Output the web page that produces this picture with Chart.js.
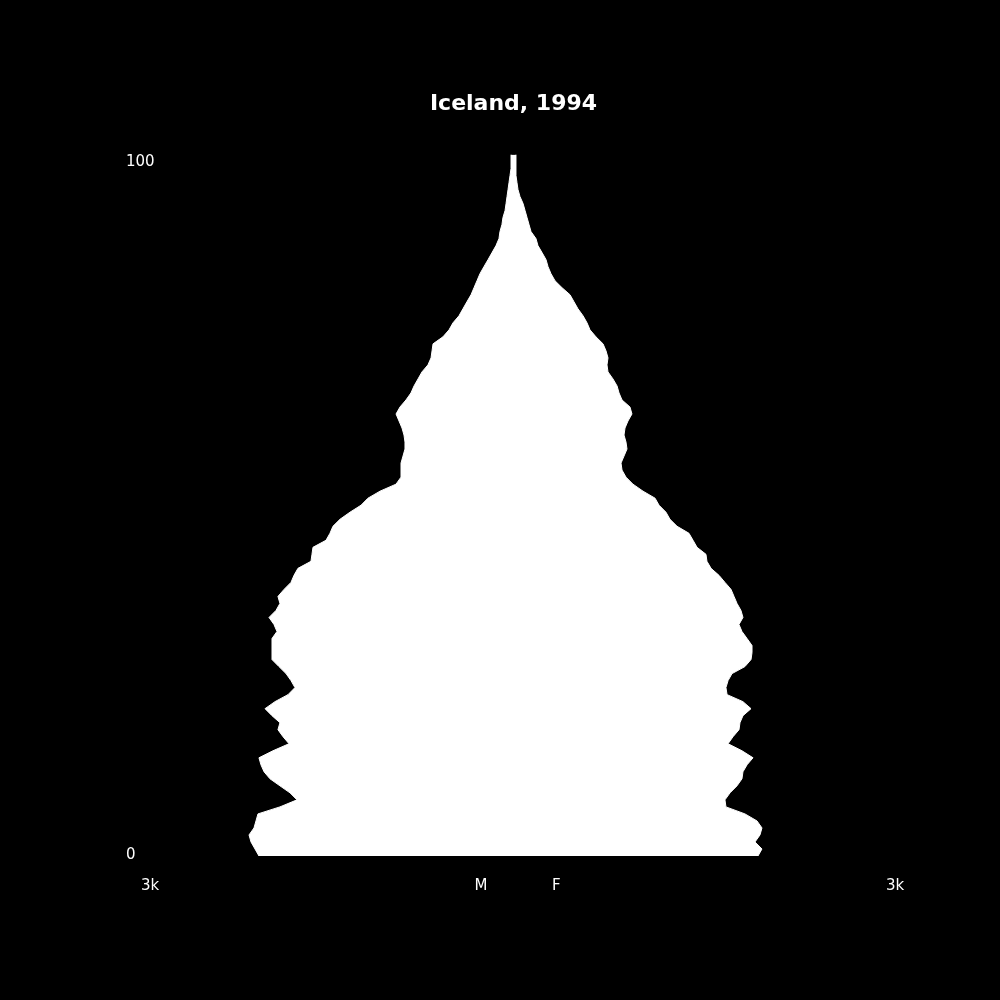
<!DOCTYPE html>
<html>
<head>
<meta charset="utf-8">
<title>Iceland, 1994</title>
<script src="https://cdn.jsdelivr.net/npm/chart.js@4/dist/chart.umd.min.js"></script>
<style>
  html, body { margin: 0; padding: 0; background: #000; }
  #wrap { width: 1000px; height: 1000px; }
  canvas { display: block; background: #000; }
</style>
</head>
<body>
<div id="wrap"><canvas id="pyramid" width="1000" height="1000"></canvas></div>
<script>
const ages = [
   0,  1,  2,  3,  4,  5,  6,  7,  8,  9,
  10, 11, 12, 13, 14, 15, 16, 17, 18, 19,
  20, 21, 22, 23, 24, 25, 26, 27, 28, 29,
  30, 31, 32, 33, 34, 35, 36, 37, 38, 39,
  40, 41, 42, 43, 44, 45, 46, 47, 48, 49,
  50, 51, 52, 53, 54, 55, 56, 57, 58, 59,
  60, 61, 62, 63, 64, 65, 66, 67, 68, 69,
  70, 71, 72, 73, 74, 75, 76, 77, 78, 79,
  80, 81, 82, 83, 84, 85, 86, 87, 88, 89,
  90, 91, 92, 93, 94, 95, 96, 97, 98, 99,
  100
];

// population by single year of age
const male = [
  2050, 2082, 2114, 2130, 2090, 2074, 2058, 1881, 1744, 1800,
  1881, 1961, 2009, 2034, 2050, 1937, 1808, 1856, 1897, 1881,
  1945, 2001, 1921, 1816, 1760, 1792, 1832, 1889, 1945, 1945,
  1945, 1945, 1905, 1929, 1969, 1913, 1881, 1897, 1848, 1792,
  1768, 1736, 1631, 1623, 1615, 1510, 1478, 1454, 1397, 1317,
  1228, 1172, 1075, 946, 906, 906, 906, 890, 874, 874,
  882, 898, 922, 946, 914, 866, 826, 801, 769, 737,
  689, 664, 656, 648, 568, 519, 487, 439, 407, 375,
  342, 318, 294, 270, 238, 205, 173, 141, 117, 109,
  93, 85, 68, 60, 52, 44, 36, 28, 20, 20,
  20
];

const female = [
  1969, 2001, 1945, 1985, 2001, 1961, 1864, 1711, 1703, 1744,
  1800, 1840, 1848, 1881, 1929, 1840, 1728, 1768, 1816, 1824,
  1848, 1913, 1848, 1720, 1711, 1728, 1760, 1864, 1913, 1921,
  1921, 1881, 1840, 1816, 1848, 1832, 1800, 1776, 1752, 1703,
  1655, 1591, 1558, 1550, 1478, 1446, 1413, 1317, 1260, 1228,
  1172, 1140, 1043, 962, 906, 874, 866, 890, 914, 906,
  890, 898, 922, 954, 938, 874, 850, 834, 801, 761,
  753, 761, 745, 721, 664, 616, 592, 560, 519, 487,
  455, 391, 334, 302, 278, 262, 230, 197, 181, 141,
  125, 109, 93, 77, 52, 36, 28, 20, 20, 20,
  20
];

const xLabels = ['3k', 'M', 'F', '3k'];
const xLabelValues = [-3000, -315, 310, 3000];
const yLabels = ['0', '100'];
const yLabelValues = [0, 100];

const chartTitle = 'Iceland, 1994';

// axis texts, drawn at scale positions
const pyramidLabels = {
  id: 'pyramidLabels',
  afterDraw(chart) {
    const {ctx, chartArea, scales} = chart;
    ctx.save();
    ctx.fillStyle = '#fff';
    ctx.font = '15px "DejaVu Sans"';
    ctx.textAlign = 'left';
    ctx.textBaseline = 'alphabetic';
    xLabels.forEach((txt, i) => {
      ctx.fillText(txt, scales.x.getPixelForValue(xLabelValues[i]), chartArea.bottom + 34);
    });
    yLabels.forEach((txt, i) => {
      const y = scales.y.getPixelForValue(yLabelValues[i]);
      ctx.fillText(txt, chartArea.left - 15, yLabelValues[i] === 0 ? y + 3 : y + 12);
    });
    ctx.restore();
  }
};

const ctx = document.getElementById('pyramid').getContext('2d');

const data = {
  datasets: [
    {
      label: 'M',
      data: ages.map((a, i) => ({x: -male[i], y: a})),
      fill: '+1',   // fill across to the F line, no seam in the middle
      backgroundColor: '#fff',
      borderColor: '#fff',
      borderWidth: 1,
      pointRadius: 0,
      tension: 0
    },
    {
      label: 'F',
      data: ages.map((a, i) => ({x: female[i], y: a})),
      fill: false,
      backgroundColor: '#fff',
      borderColor: '#fff',
      borderWidth: 1,
      pointRadius: 0,
      tension: 0
    }
  ]
};

const config = {
  type: 'line',
  data: data,
  options: {
    responsive: false,
    animation: false,
    indexAxis: 'y',
    layout: {
      padding: {left: 141, right: 114, top: 0, bottom: 144}
    },
    plugins: {
      legend: {display: false},
      tooltip: {enabled: false},
      title: {
        display: true,
        text: chartTitle,
        color: '#fff',
        font: {family: '"DejaVu Sans"', size: 22, weight: 'bold'},
        padding: {top: 91, bottom: 37}
      }
    },
    scales: {
      x: {type: 'linear', min: -3000, max: 3000, display: false},
      y: {type: 'linear', min: 0, max: 100, display: false}
    }
  },
  plugins: [pyramidLabels]
};

const myChart = new Chart(ctx, config);
</script>
</body>
</html>
